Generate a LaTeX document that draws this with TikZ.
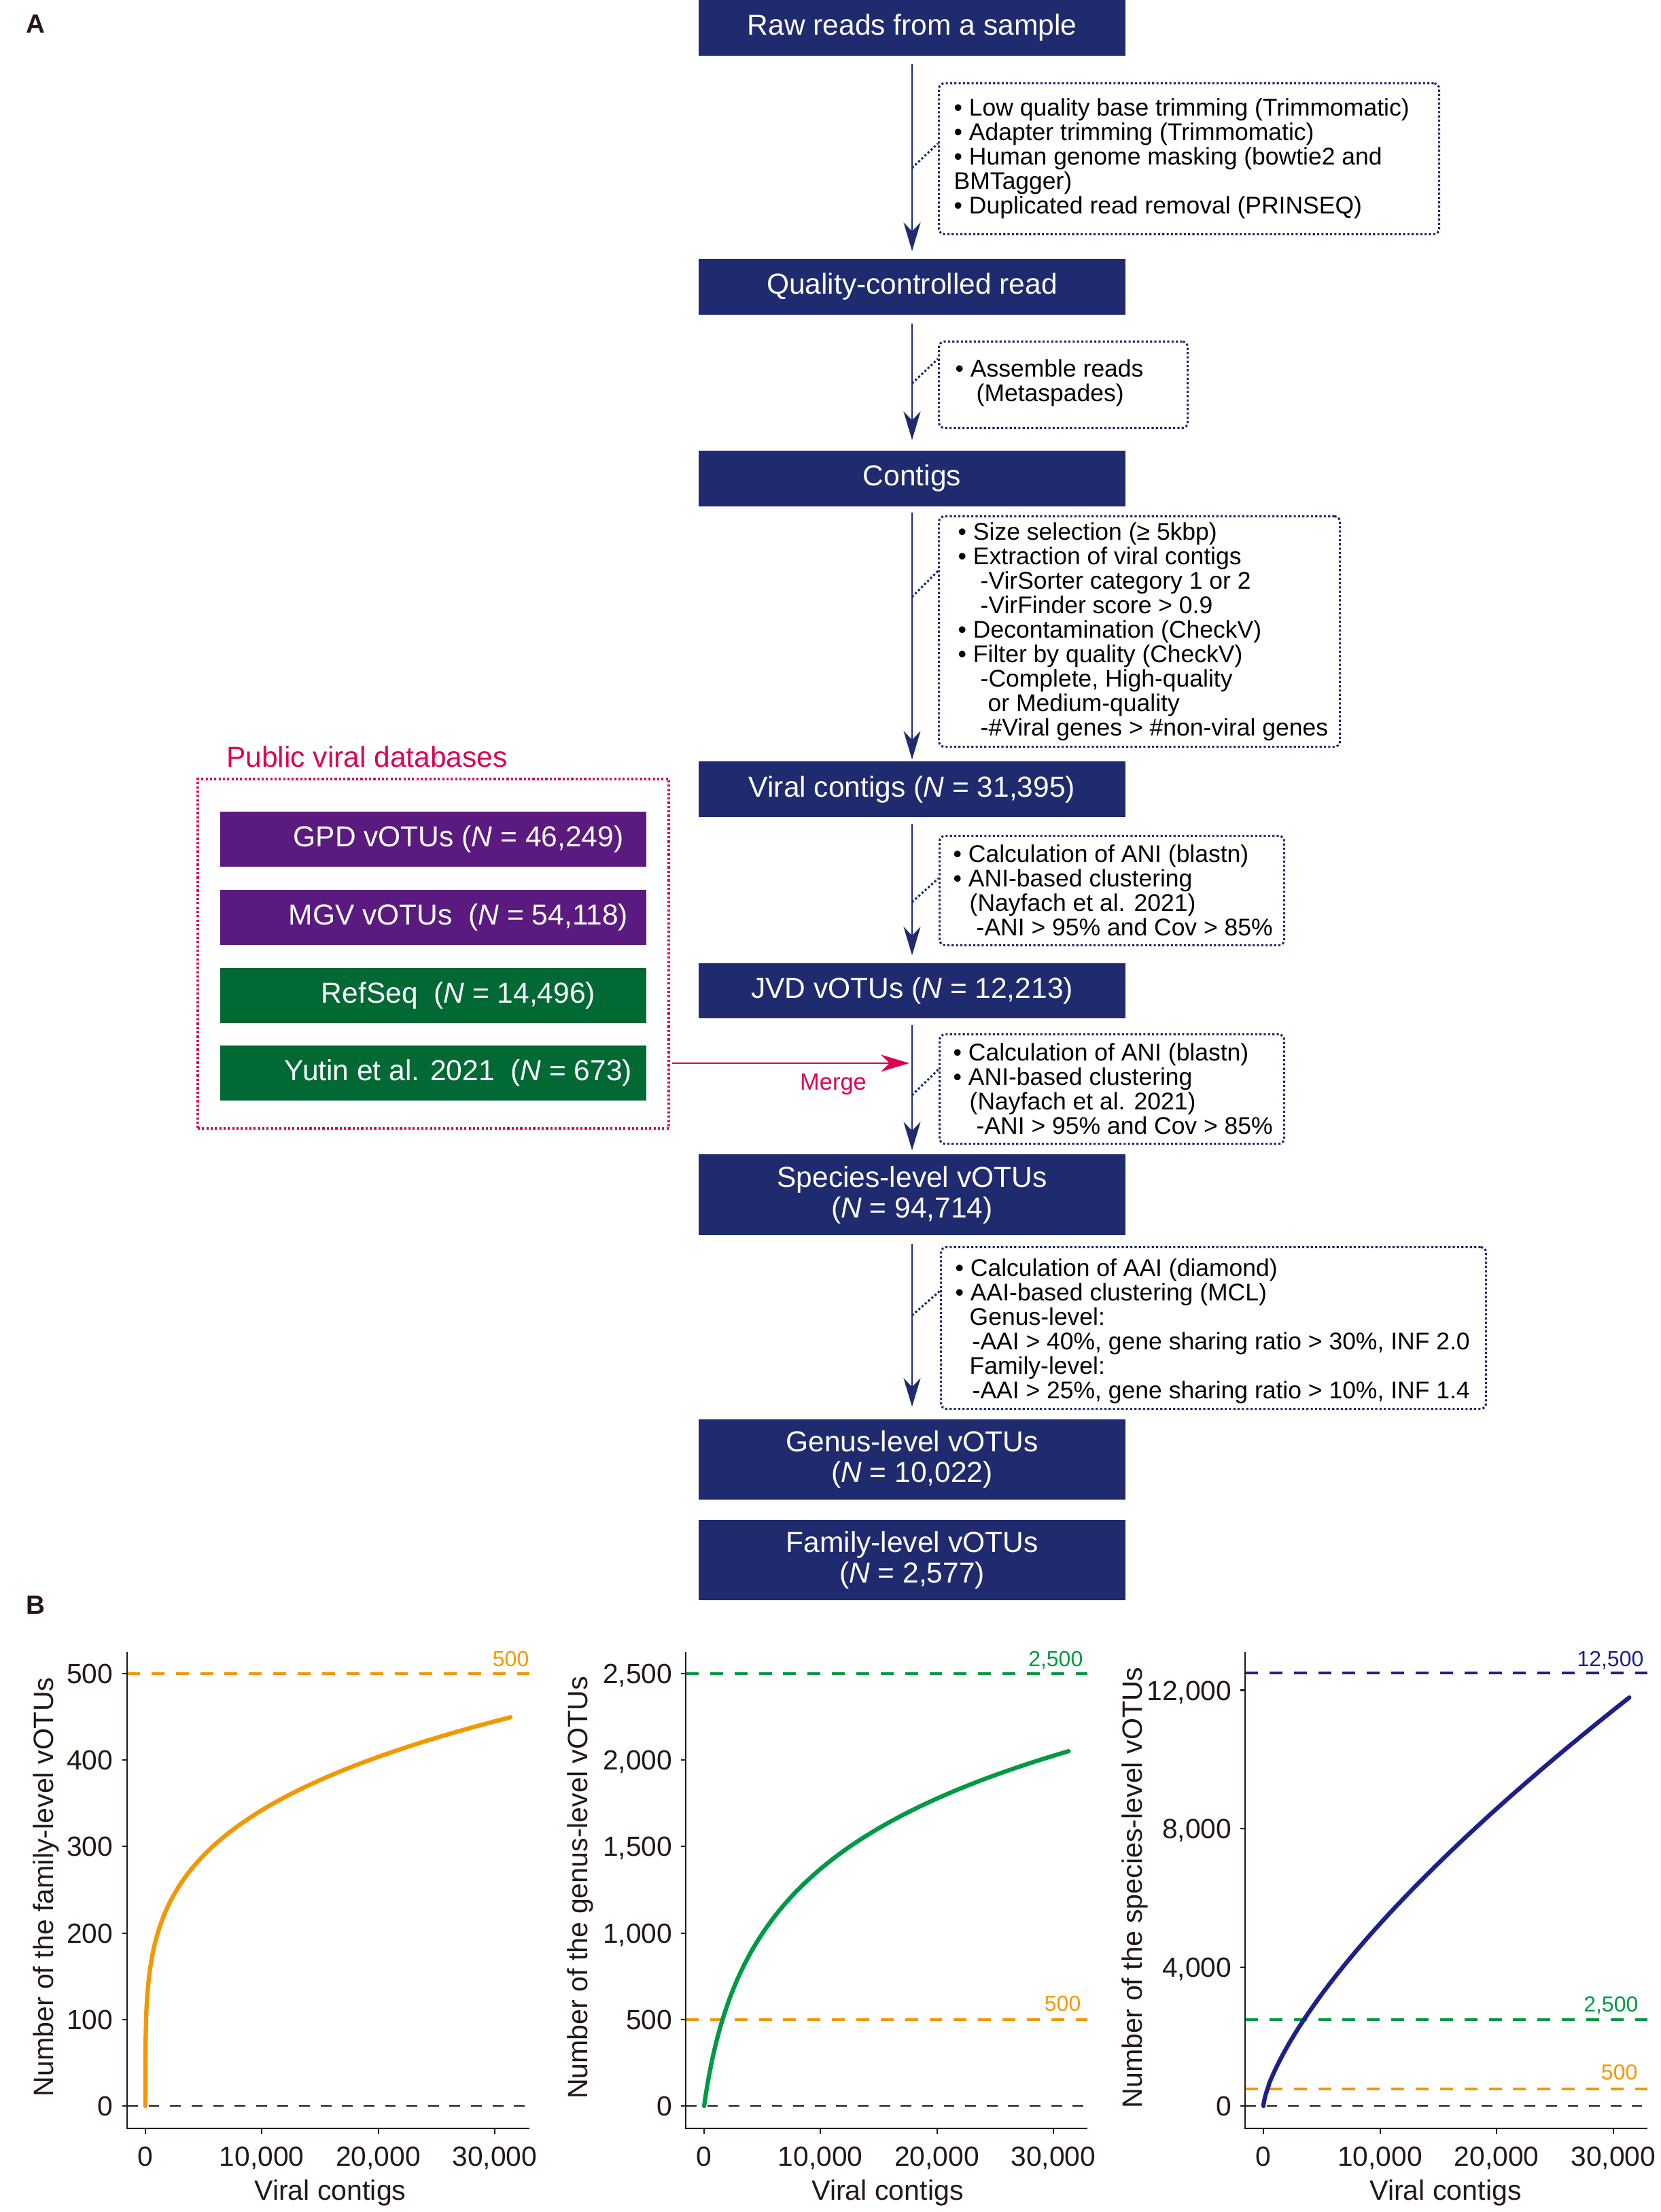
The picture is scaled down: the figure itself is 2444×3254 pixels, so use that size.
\documentclass[tikz,border=0pt]{standalone}
\usepackage{fontspec}
\setmainfont{Liberation Sans}
\usetikzlibrary{arrows.meta}
\definecolor{navy}{HTML}{1F2A6F}
\definecolor{dbpurple}{HTML}{5B1A7F}
\definecolor{dbgreen}{HTML}{006934}
\definecolor{crimson}{HTML}{DC0055}
\definecolor{plotorange}{HTML}{F39800}
\definecolor{plotgreen}{HTML}{009944}
\definecolor{plotnavy}{HTML}{1D2088}
\definecolor{inkdark}{HTML}{231815}
\begin{document}
\begin{tikzpicture}[x=0.1mm,y=-0.1mm,
  mainbox/.style={fill=navy,text=white,minimum width=62.8mm,inner sep=0pt,align=center,font=\fontsize{12.1}{12.8}\selectfont},
  dbbox/.style={text=white,minimum width=62.7mm,minimum height=8.1mm,inner sep=0pt,font=\fontsize{12.1}{14}\selectfont},
  notebox/.style={draw=navy,line width=0.9pt,dash pattern=on 0.9pt off 0.9pt,rounded corners=0.8mm,anchor=north west,inner sep=0pt},
  notetext/.style={anchor=west,align=left,inner sep=0pt,font=\fontsize{10.1}{10.25}\selectfont},
  dotlink/.style={draw=navy,line width=0.9pt,dash pattern=on 0.9pt off 0.9pt},
  flow/.style={draw=navy,line width=0.7pt,-{Stealth[length=4.2mm,width=2.5mm,inset=1.3mm]}},
  mergeflow/.style={draw=crimson,line width=0.7pt,-{Stealth[length=4.2mm,width=2.5mm,inset=1.3mm]}},
  panel/.style={text=inkdark,font=\fontsize{11}{12}\selectfont\bfseries},
  axisline/.style={draw=inkdark,line width=0.6pt},
  ylab/.style={text=inkdark,anchor=base east,inner sep=0pt,font=\fontsize{11.6}{12}\selectfont},
  xlab/.style={text=inkdark,anchor=base,inner sep=0pt,font=\fontsize{11.6}{12}\selectfont},
  axtitle/.style={text=inkdark,font=\fontsize{11.7}{12}\selectfont},
  reflab/.style={anchor=base east,inner sep=0pt,font=\fontsize{9.1}{10}\selectfont},
  refline/.style={line width=0.9pt,dash pattern=on 5.4pt off 4.8pt},
  zeroline/.style={draw=inkdark,line width=0.65pt,dash pattern=on 4.5pt off 4.5pt},
  curve/.style={line width=1.8pt,line join=round,line cap=round}
]
\useasboundingbox (0,0) rectangle (2444,3254);

% panel letters
\node[panel] (pA) at (52,35) {A};
\node[panel] (pB) at (52,2361) {B};

% main flow boxes
\node[mainbox,minimum height=8.2mm] (raw) at (1342,41) {Raw reads from a sample};
\node[mainbox,minimum height=8.2mm] (qc) at (1342,422) {Quality-controlled read};
\node[mainbox,minimum height=8.2mm] (contigs) at (1342,704) {Contigs};
\node[mainbox,minimum height=8.2mm] (viral) at (1342,1161) {Viral contigs (\textit{N} = 31,395)};
\node[mainbox,minimum height=8.1mm] (jvd) at (1342,1457.5) {JVD vOTUs (\textit{N} = 12,213)};
\node[mainbox,minimum height=11.9mm] (species) at (1342,1757.5) {Species-level vOTUs\\(\textit{N} = 94,714)};
\node[mainbox,minimum height=11.8mm] (genus) at (1342,2147) {Genus-level vOTUs\\(\textit{N} = 10,022)};
\node[mainbox,minimum height=11.8mm] (family) at (1342,2295) {Family-level vOTUs\\(\textit{N} = 2,577)};

% arrows
\draw[flow,shorten <=1.1mm,shorten >=1.1mm] (raw) -- (qc);
\draw[flow,shorten <=1.2mm,shorten >=1.5mm] (qc) -- (contigs);
\draw[flow,shorten <=0.8mm,shorten >=0.2mm] (contigs) -- (viral);
\draw[flow,shorten <=0.9mm,shorten >=1.1mm] (viral) -- (jvd);
\draw[flow,shorten <=0.9mm,shorten >=0.5mm] (jvd) -- (species);
\draw[flow,shorten <=1.2mm,shorten >=1.8mm] (species) -- (genus);

% notes: dotted frames
\node[notebox,minimum width=73.6mm,minimum height=22.2mm] (n1) at (1380,121) {};
\node[notebox,minimum width=36.6mm,minimum height=12.7mm] (n2) at (1380,501) {};
\node[notebox,minimum width=59.0mm,minimum height=33.9mm] (n3) at (1380,758) {};
\node[notebox,minimum width=50.7mm,minimum height=16.1mm] (n4) at (1381,1228) {};
\node[notebox,minimum width=50.7mm,minimum height=16.1mm] (n5) at (1381,1520) {};
\node[notebox,minimum width=80.2mm,minimum height=23.8mm] (n6) at (1383,1833) {};

% notes: texts
\node[notetext] (t1) at ([xshift=2.3mm]n1.west)
 {\textbullet\ Low quality base trimming (Trimmomatic)\\
  \textbullet\ Adapter trimming (Trimmomatic)\\
  \textbullet\ Human genome masking (bowtie2 and\\
  BMTagger)\\
  \textbullet\ Duplicated read removal (PRINSEQ)};
\node[notetext] (t2) at ([xshift=2.5mm,yshift=0.3mm]n2.west)
 {\textbullet\ Assemble reads\\
  \hspace*{3.1mm}(Metaspades)};
\node[notetext] (t3) at ([xshift=2.9mm]n3.west)
 {\textbullet\ Size selection (≥ 5kbp)\\
  \textbullet\ Extraction of viral contigs\\
  \hspace*{3.3mm}-VirSorter category 1 or 2\\
  \hspace*{3.3mm}-VirFinder score > 0.9\\
  \textbullet\ Decontamination (CheckV)\\
  \textbullet\ Filter by quality (CheckV)\\
  \hspace*{3.3mm}-Complete, High-quality\\
  \hspace*{4.4mm}or Medium-quality\\
  \hspace*{3.3mm}-\#Viral genes > \#non-viral genes};
\node[notetext] (t4) at ([xshift=2.1mm]n4.west)
 {\textbullet\ Calculation of ANI (blastn)\\
  \textbullet\ ANI-based clustering\\
  \hspace*{2.4mm}(Nayfach et al. 2021)\\
  \hspace*{3.4mm}-ANI > 95\% and Cov > 85\%};
\node[notetext] (t5) at ([xshift=2.1mm]n5.west)
 {\textbullet\ Calculation of ANI (blastn)\\
  \textbullet\ ANI-based clustering\\
  \hspace*{2.4mm}(Nayfach et al. 2021)\\
  \hspace*{3.4mm}-ANI > 95\% and Cov > 85\%};
\node[notetext] (t6) at ([xshift=2.2mm,yshift=-0.5mm]n6.west)
 {\textbullet\ Calculation of AAI (diamond)\\
  \textbullet\ AAI-based clustering (MCL)\\
  \hspace*{2.1mm}Genus-level:\\
  \hspace*{2.5mm}-AAI > 40\%, gene sharing ratio > 30\%, INF 2.0\\
  \hspace*{2.1mm}Family-level:\\
  \hspace*{2.5mm}-AAI > 25\%, gene sharing ratio > 10\%, INF 1.4};

% dotted links from arrows to notes
\coordinate (a1) at (1342,247);  \coordinate (b1) at (1380,211);
\coordinate (a2) at (1342,564);  \coordinate (b2) at (1380,528);
\coordinate (a3) at (1342,878);  \coordinate (b3) at (1380,840);
\coordinate (a4) at (1342,1327); \coordinate (b4) at (1381,1292);
\coordinate (a5) at (1342,1611); \coordinate (b5) at (1381,1573);
\coordinate (a6) at (1342,1935); \coordinate (b6) at (1383,1899);
\draw[dotlink] (a1) -- (b1);
\draw[dotlink] (a2) -- (b2);
\draw[dotlink] (a3) -- (b3);
\draw[dotlink] (a4) -- (b4);
\draw[dotlink] (a5) -- (b5);
\draw[dotlink] (a6) -- (b6);

% public databases
\node[text=crimson,font=\fontsize{12.1}{14}\selectfont] (dbtitle) at (540,1113) {Public viral databases};
\node[draw=crimson,line width=0.9pt,dash pattern=on 0.9pt off 0.9pt,minimum width=69.3mm,minimum height=51.4mm,inner sep=0pt] (dbframe) at (637.5,1403) {};
\node[dbbox,fill=dbpurple] (gpd) at (637.5,1234.5) {\hspace*{7.4mm}GPD vOTUs (\textit{N} = 46,249)};
\node[dbbox,fill=dbpurple] (mgv) at (637.5,1349) {\hspace*{7.4mm}MGV vOTUs\ \ (\textit{N} = 54,118)};
\node[dbbox,fill=dbgreen] (refseq) at (637.5,1464) {\hspace*{7.4mm}RefSeq\ \ (\textit{N} = 14,496)};
\node[dbbox,fill=dbgreen] (yutin) at (637.5,1578) {\hspace*{7.4mm}Yutin et al. 2021\ \ (\textit{N} = 673)};

\coordinate (mS) at (989,1564);
\coordinate (mE) at (1338,1564);
\draw[mergeflow] (mS) -- (mE);
\node[text=crimson,font=\fontsize{9.8}{11}\selectfont] (mergelab) at (1226,1595) {Merge};

% ---------- Plot 1: family ----------
\draw[refline,draw=plotorange] (187,2462) -- (779,2462);
\node[reflab,text=plotorange] (r1a) at (779,2451) {500};
\draw[zeroline] (187,3098) -- (779,3098);
\draw[curve,draw=plotorange] (214,3098) -- plot[domain=0.01:1,samples=120,variable=\t]
  ({214+537.8*\t^3},{3098-571.9*\t^0.717});
\draw[axisline] (187,2430) -- (187,3131) -- (779,3131);
\foreach \v/\t in {0/0,100/100,200/200,300/300,400/400,500/500}{
  \draw[axisline] (180,{3098-1.272*\v}) -- (187,{3098-1.272*\v});
  \node[ylab] at (167,{3098-1.272*\v+14.5}) {\t};
}
\foreach \k/\t in {0/0,10/{10,000},20/{20,000},30/{30,000}}{
  \draw[axisline] ({214+17.13*\k},3131) -- ({214+17.13*\k},3139);
  \node[xlab] at ({214+17.13*\k},3186) {\t};
}
\node[axtitle,rotate=90] (yt1) at (68,2776) {Number of the family-level vOTUs};
\node[axtitle] (xt1) at (486,3226) {Viral contigs};

% ---------- Plot 2: genus ----------
\draw[refline,draw=plotgreen] (1009,2462) -- (1600,2462);
\node[reflab,text=plotgreen] (r2a) at (1594,2451) {2,500};
\draw[refline,draw=plotorange] (1009,2971) -- (1600,2971);
\node[reflab,text=plotorange] (r2b) at (1591,2958) {500};
\draw[zeroline] (1009,3098) -- (1600,3098);
\draw[curve,draw=plotgreen] plot[domain=0:1,samples=120,variable=\t]
  ({1036+537.8*\t^2},{3098-163.8*ln(1+23.256*\t^2)});
\draw[axisline] (1009,2430) -- (1009,3131) -- (1600,3131);
\foreach \k/\t in {0/0,5/500,10/{1,000},15/{1,500},20/{2,000},25/{2,500}}{
  \draw[axisline] (1002,{3098-25.44*\k}) -- (1009,{3098-25.44*\k});
  \node[ylab] at (990,{3098-25.44*\k+14.5}) {\t};
}
\foreach \k/\t in {0/0,10/{10,000},20/{20,000},30/{30,000}}{
  \draw[axisline] ({1036+17.13*\k},3131) -- ({1036+17.13*\k},3139);
  \node[xlab] at ({1036+17.13*\k},3186) {\t};
}
\node[axtitle,rotate=90] (yt2) at (854,2777) {Number of the genus-level vOTUs};
\node[axtitle] (xt2) at (1306,3226) {Viral contigs};

% ---------- Plot 3: species ----------
\draw[refline,draw=plotnavy] (1832,2461) -- (2424,2461);
\node[reflab,text=plotnavy] (r3a) at (2419,2451) {12,500};
\draw[refline,draw=plotgreen] (1832,2971) -- (2424,2971);
\node[reflab,text=plotgreen] (r3b) at (2411,2959) {2,500};
\draw[refline,draw=plotorange] (1832,3073) -- (2424,3073);
\node[reflab,text=plotorange] (r3c) at (2410,3059) {500};
\draw[zeroline] (1832,3098) -- (2416,3098);
\draw[curve,draw=plotnavy] (1859,3098) -- plot[domain=0.01:1,samples=120,variable=\t]
  ({1859+538.7*\t^2},{3098-601.2*\t^1.412});
\draw[axisline] (1832,2430) -- (1832,3131) -- (2424,3131);
\foreach \k/\t in {0/0,4/{4,000},8/{8,000},12/{12,000}}{
  \draw[axisline] (1825,{3098-50.96*\k}) -- (1832,{3098-50.96*\k});
  \node[ylab] at (1813,{3098-50.96*\k+14.5}) {\t};
}
\foreach \k/\t in {0/0,10/{10,000},20/{20,000},30/{30,000}}{
  \draw[axisline] ({1859+17.16*\k},3131) -- ({1859+17.16*\k},3139);
  \node[xlab] at ({1859+17.16*\k},3186) {\t};
}
\node[axtitle,rotate=90] (yt3) at (1670,2777) {Number of the species-level vOTUs};
\node[axtitle] (xt3) at (2127,3226) {Viral contigs};
\end{tikzpicture}
\end{document}
